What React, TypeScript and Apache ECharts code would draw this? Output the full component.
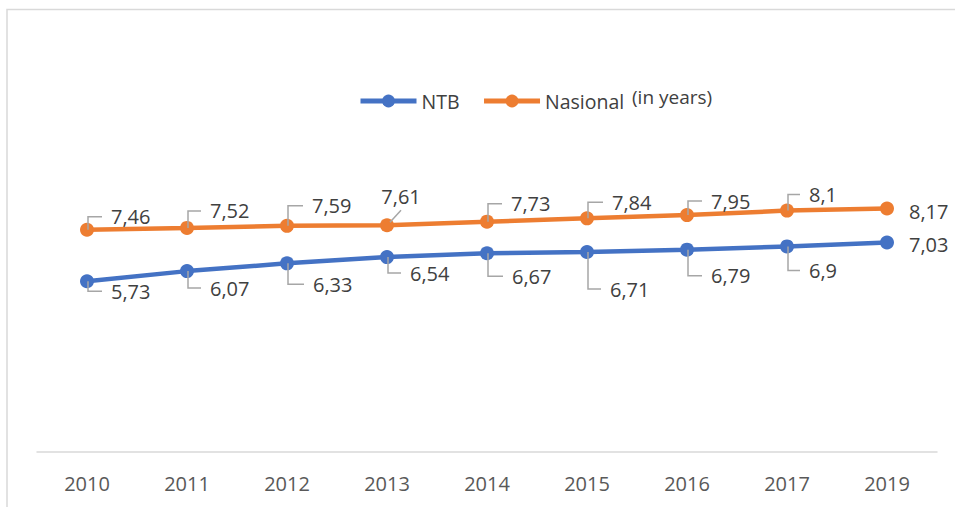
import React, { useEffect, useRef } from "react";
import * as echarts from "echarts";

const categories = ["2010", "2011", "2012", "2013", "2014", "2015", "2016", "2017", "2019"];
const ntbValues = [5.73, 6.07, 6.33, 6.54, 6.67, 6.71, 6.79, 6.9, 7.03];
const nasionalValues = [7.46, 7.52, 7.59, 7.61, 7.73, 7.84, 7.95, 8.1, 8.17];
const seriesNames = ["NTB", "Nasional"];
const unitNote = "(in years)";

// label layout (offsets of each data label from its point, in px)
const ntbLabelDx = [24, 23, 26, 23, 25, 23, 24, 22, 22];
const ntbLabelDy = [10, 17, 21, 16, 23, 37, 26, 24, 2];
const ntbLabelMode = ["leader", "leader", "leader", "leader", "leader", "leader", "leader", "leader", "none"];
const nasLabelDx = [24, 23, 25, 14, 24, 25, 24, 22, 22];
const nasLabelDy = [-13, -17, -20, -29, -18, -16, -14, -16, 3];
const nasLabelMode = ["leader", "leader", "leader", "diag", "leader", "leader", "leader", "leader", "none"];

const FONT = '"Open Sans", "Noto Sans", sans-serif';
const BLUE = "#4472C4";
const ORANGE = "#ED7D31";

function labelSeries(values: number[], dxArr: number[], dyArr: number[], modes: string[]) {
  return {
    type: "custom",
    z: 5,
    silent: true,
    data: values.map((v, i) => [i, v]),
    renderItem: (params: any, api: any) => {
      const i = params.dataIndex;
      const [px, py] = api.coord([api.value(0), api.value(1)]);
      const txt = String(values[i]).replace(".", ",");
      const mode = modes[i];
      const dx = dxArr[i];
      const dy = dyArr[i];
      const children: any[] = [];
      const ls = { stroke: "#A6A6A6", lineWidth: 1.5, fill: null };
      if (mode === "leader") {
        children.push({
          type: "polyline",
          shape: { points: [[px + 1, py], [px + 1, py + dy], [px + dx - 9, py + dy]] },
          style: ls,
        });
      } else if (mode === "diag") {
        children.push({
          type: "line",
          shape: { x1: px + 3, y1: py - 3, x2: px + 14, y2: py - 15 },
          style: ls,
        });
      }
      children.push({
        type: "text",
        x: px + dx,
        y: py + dy,
        style: {
          text: txt,
          fill: "#404040",
          fontSize: 20,
          fontFamily: FONT,
          align: mode === "diag" ? "center" : "left",
          verticalAlign: "middle",
        },
      });
      return { type: "group", children };
    },
  };
}

export default function App() {
  const ref = useRef<HTMLDivElement>(null);
  useEffect(() => {
    if (!ref.current) return;
    const chart = echarts.init(ref.current, undefined, { renderer: "svg" });
    chart.setOption({
      animation: false,
      backgroundColor: "#ffffff",
      grid: { left: 37, right: 18, top: 154, bottom: 55 },
      legend: {
        data: seriesNames,
        left: 358,
        top: 91,
        padding: 0,
        itemWidth: 56,
        itemHeight: 16,
        itemGap: 22,
        lineStyle: { width: 5 },
        textStyle: { fontSize: 19.5, fontFamily: FONT, color: "#404040" },
      },
      graphic: [
        {
          type: "rect",
          shape: { x: 7, y: 9.5, width: 1200, height: 700 },
          style: { fill: "none", stroke: "#D9D9D9", lineWidth: 1.5 },
          silent: true,
          z: -1,
        },
        {
          type: "text",
          x: 632,
          y: 97,
          style: {
            text: unitNote,
            fill: "#404040",
            fontSize: 19,
            fontFamily: FONT,
            verticalAlign: "middle",
          },
        },
      ],
      xAxis: {
        type: "category",
        data: categories,
        boundaryGap: true,
        axisLine: { show: true, lineStyle: { color: "#D9D9D9", width: 1.5 } },
        axisTick: { show: false },
        axisLabel: { fontSize: 20, fontFamily: FONT, color: "#595959", margin: 21 },
        splitLine: { show: false },
      },
      yAxis: {
        type: "value",
        min: 0,
        max: 10,
        show: false,
        splitLine: { show: false },
      },
      series: [
        {
          name: seriesNames[0],
          type: "line",
          data: ntbValues,
          symbol: "circle",
          symbolSize: 14,
          showAllSymbol: true,
          lineStyle: { color: BLUE, width: 4.5 },
          itemStyle: { color: BLUE },
          z: 3,
        },
        {
          name: seriesNames[1],
          type: "line",
          data: nasionalValues,
          symbol: "circle",
          symbolSize: 14,
          showAllSymbol: true,
          lineStyle: { color: ORANGE, width: 4.5 },
          itemStyle: { color: ORANGE },
          z: 3,
        },
        labelSeries(ntbValues, ntbLabelDx, ntbLabelDy, ntbLabelMode),
        labelSeries(nasionalValues, nasLabelDx, nasLabelDy, nasLabelMode),
      ],
    });
    return () => chart.dispose();
  }, []);
  return (
    <div
      ref={ref}
      style={{ position: "fixed", left: 0, top: 0, width: 955, height: 507 }}
    />
  );
}
